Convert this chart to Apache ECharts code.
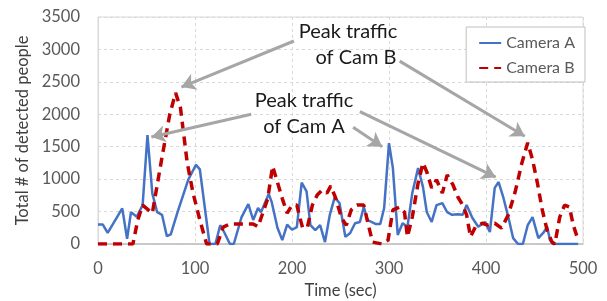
<!DOCTYPE html>
<html>
<head>
<meta charset="utf-8">
<script src="https://cdn.jsdelivr.net/npm/echarts@6/dist/echarts.min.js"></script>
<style>
  html, body { margin: 0; padding: 0; background: #fff; }
  #chart { width: 607px; height: 301px; }
</style>
</head>
<body>
<div id="chart"></div>
<script>
// time (sec) and detected people
const timeA = [0, 5, 10, 25, 30, 34, 40, 46, 51, 56, 61, 66, 71, 75, 82, 93, 101, 105, 115, 121,
  126, 130, 136, 140, 148, 155, 160, 165, 168, 176, 179, 185, 190, 195, 200, 205, 210, 215, 219, 224,
  229, 234, 239, 244, 249, 255, 260, 265, 270, 274, 278, 286, 291, 295, 300, 304, 309, 314, 319, 324,
  330, 335, 339, 344, 349, 355, 360, 365, 371, 376, 380, 386, 392, 399, 404, 409, 413, 418, 423, 428,
  433, 438, 443, 448, 454, 459, 463, 466, 469, 495];
const valuesA = [300, 300, 170, 550, 80, 490, 420, 600, 1680, 780, 490, 450, 120, 150, 490, 990, 1220, 1150, 0, 0,
  290, 185, 0, 0, 415, 615, 370, 555, 490, 770, 650, 250, 60, 300, 220, 260, 945, 810, 290, 215,
  290, 30, 450, 720, 630, 110, 170, 320, 340, 570, 370, 310, 310, 555, 1555, 1170, 140, 320, 265, 785,
  1170, 880, 490, 340, 600, 630, 490, 450, 460, 450, 600, 400, 265, 340, 185, 865, 955, 710, 415, 90,
  0, 0, 290, 415, 90, 170, 265, 60, 0, 0];

const timeB = [0, 36, 41, 46, 56, 66, 74, 80, 85, 92, 98, 105, 112, 123, 129, 136, 148, 160, 165, 175,
  180, 185, 190, 195, 200, 205, 208, 211, 216, 221, 226, 231, 236, 240, 245, 251, 256, 261, 267, 274,
  278, 283, 293, 299, 304, 311, 316, 319, 324, 330, 335, 339, 344, 349, 355, 360, 366, 371, 376, 380,
  384, 389, 396, 402, 409, 416, 423, 430, 437, 443, 448, 453, 458, 463, 468, 471, 476, 481, 486, 490, 495];
const valuesB = [0, 0, 370, 600, 475, 1340, 2000, 2330, 2100, 1250, 785, 370, 0, 0, 260, 310, 310, 310, 265, 700,
  1200, 950, 700, 475, 600, 600, 415, 245, 265, 600, 755, 830, 785, 895, 710, 400, 290, 525, 600, 600,
  340, 30, 0, 60, 525, 570, 490, 110, 415, 940, 1250, 1110, 865, 990, 785, 1065, 910, 725, 600, 450,
  110, 260, 320, 290, 320, 245, 450, 800, 1250, 1560, 1300, 940, 525, 215, 30, 0, 415, 600, 570, 290, 60];

const xTicks = [0, 100, 200, 300, 400, 500];
const yTicks = [0, 500, 1000, 1500, 2000, 2500, 3000, 3500];

// annotation arrows: [start, end] in data units
const arrows = [
  [[202, 3130], [86, 2420]],
  [[311, 2820], [440, 1660]],
  [[158, 2000], [55, 1650]],
  [[263, 1800], [293, 1500]],
  [[270, 2040], [410, 1030]]
];

const font = 'Lato, "Open Sans", sans-serif';
const pairs = (xs, ys) => xs.map((x, i) => [x, ys[i]]);
const note = (x, y, str) => ({
  type: 'text', x: x, y: y, z: 10,
  style: {text: str, font: '20px ' + font, fill: '#1a1a1a', align: 'center', verticalAlign: 'middle'}
});

const chart = echarts.init(document.getElementById('chart'));
chart.setOption({
  animation: false,
  textStyle: {fontFamily: font},
  grid: {
    left: 98, right: 24, top: 17, bottom: 57,
    outerBoundsMode: 'none', containLabel: false,
    show: true, borderColor: '#d9d9d9', borderWidth: 1
  },
  legend: {
    right: 22, top: 27,
    orient: 'vertical',
    itemWidth: 22, itemHeight: 10, itemGap: 9,
    padding: [8, 10, 6, 12],
    borderColor: '#bfbfbf', borderWidth: 1, borderRadius: 0,
    backgroundColor: '#fff',
    itemStyle: {opacity: 0},
    textStyle: {fontSize: 16, color: '#595959', fontFamily: font},
    data: ['Camera A', 'Camera B']
  },
  xAxis: {
    type: 'value', min: xTicks[0], max: xTicks[xTicks.length - 1], interval: 100,
    name: 'Time (sec)', nameLocation: 'middle', nameGap: 38,
    nameTextStyle: {fontSize: 16.5, color: '#404040'},
    axisLine: {lineStyle: {color: '#bfbfbf', width: 1.5}},
    axisTick: {show: false},
    axisLabel: {fontSize: 16.5, color: '#595959', margin: 16},
    splitLine: {show: true, lineStyle: {color: '#d9d9d9', type: [3, 3]}}
  },
  yAxis: {
    type: 'value', min: yTicks[0], max: yTicks[yTicks.length - 1], interval: 500,
    name: 'Total # of detected people', nameLocation: 'middle', nameGap: 61,
    nameTextStyle: {fontSize: 16.5, color: '#404040'},
    axisLine: {show: true, lineStyle: {color: '#d9d9d9'}},
    axisTick: {show: false},
    axisLabel: {fontSize: 16.5, color: '#595959', margin: 18, formatter: v => String(v)},
    splitLine: {show: true, lineStyle: {color: '#d9d9d9', type: [3, 3]}}
  },
  series: [
    {
      name: 'Camera A', type: 'line', data: pairs(timeA, valuesA),
      symbol: 'none', color: '#4472c4',
      lineStyle: {width: 2.5, color: '#4472c4'}
    },
    {
      name: 'Camera B', type: 'line', data: pairs(timeB, valuesB),
      symbol: 'none', color: '#c00000',
      lineStyle: {width: 3.5, color: '#c00000', type: [9, 6]},
      markLine: {
        silent: true,
        symbol: ['none', 'arrow'], symbolSize: [13, 14],
        label: {show: false},
        lineStyle: {color: '#a6a6a6', width: 3, type: 'solid'},
        data: arrows.map(a => [{coord: a[0]}, {coord: a[1]}])
      }
    }
  ],
  graphic: [
    note(348, 32, 'Peak traffic'),
    note(356, 58, 'of Cam B'),
    note(304, 101, 'Peak traffic'),
    note(304, 127, 'of Cam A')
  ]
});
</script>
</body>
</html>
